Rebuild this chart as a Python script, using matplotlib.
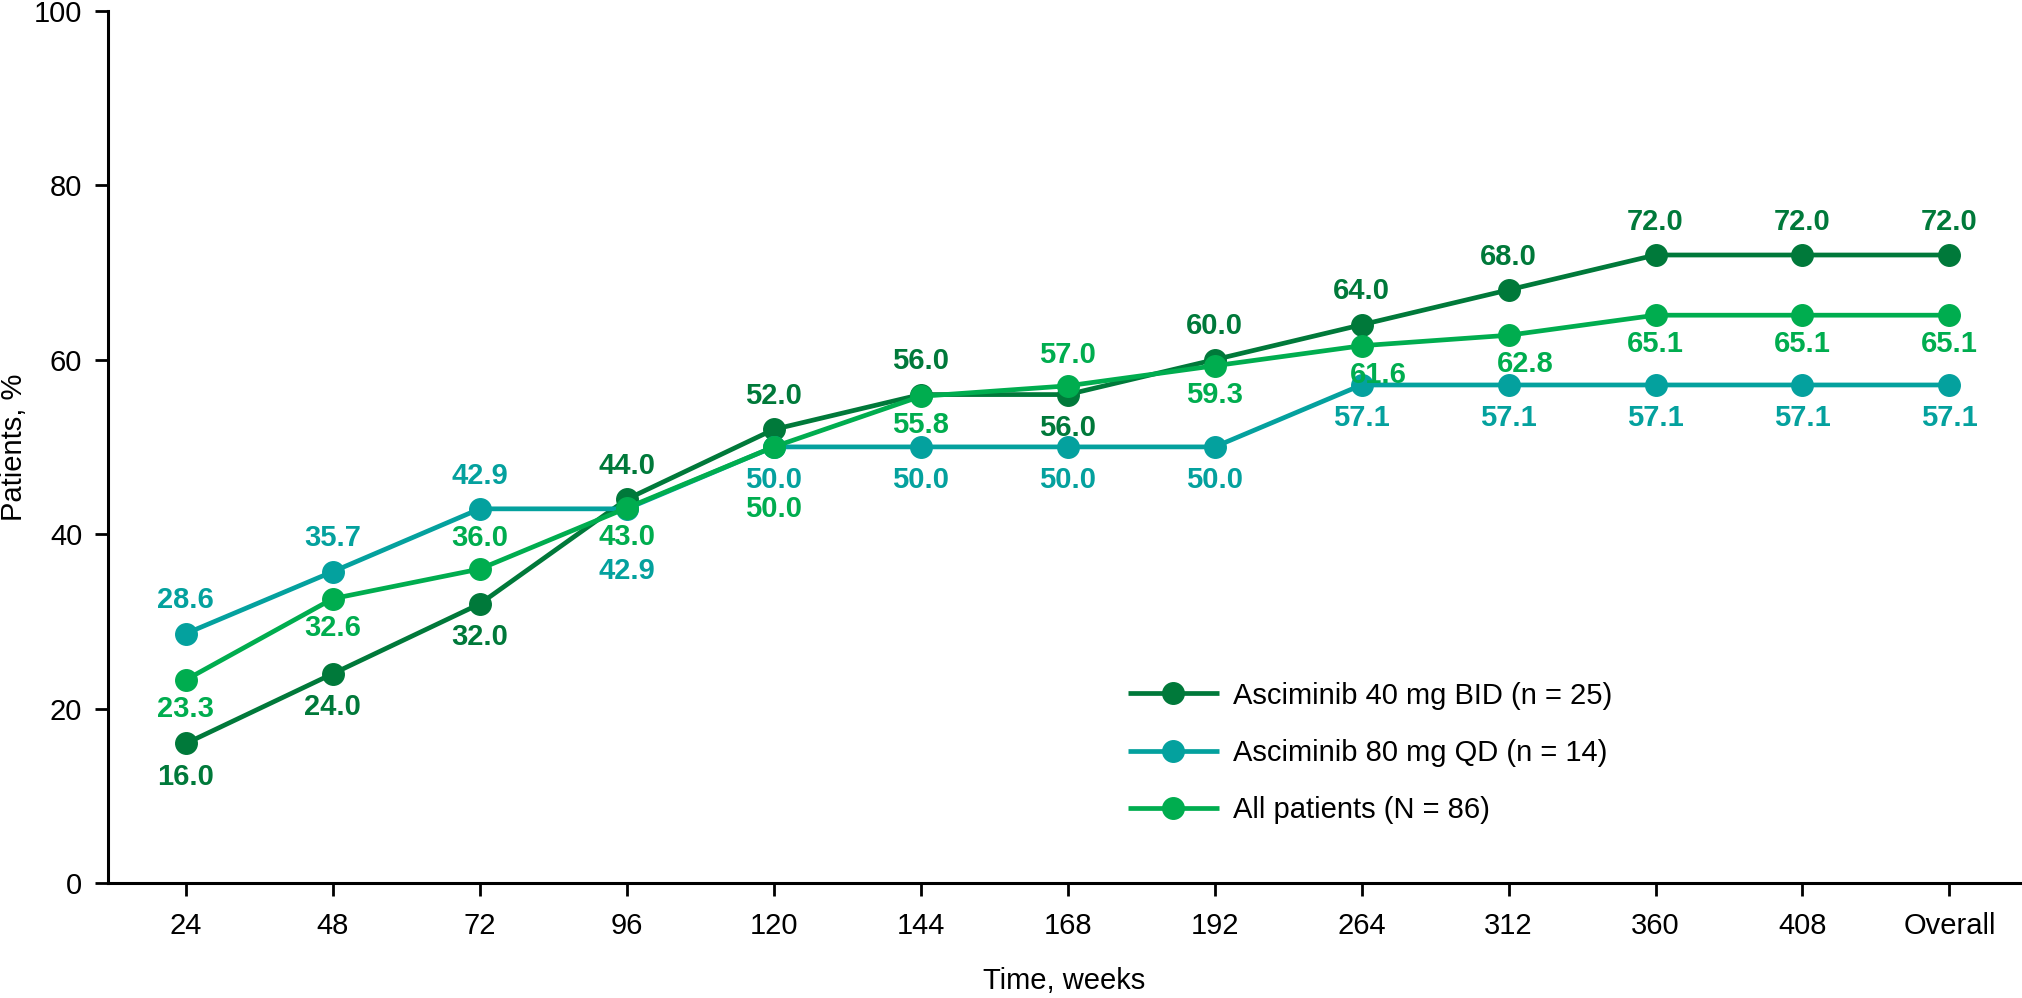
import matplotlib
matplotlib.use("Agg")
import matplotlib.pyplot as plt

categories = ["24", "48", "72", "96", "120", "144", "168", "192", "264", "312", "360", "408", "Overall"]
bid40 = [16.0, 24.0, 32.0, 44.0, 52.0, 56.0, 56.0, 60.0, 64.0, 68.0, 72.0, 72.0, 72.0]
qd80 = [28.6, 35.7, 42.9, 42.9, 50.0, 50.0, 50.0, 50.0, 57.1, 57.1, 57.1, 57.1, 57.1]
allp = [23.3, 32.6, 36.0, 43.0, 50.0, 55.8, 57.0, 59.3, 61.6, 62.8, 65.1, 65.1, 65.1]
labels = ["Asciminib 40 mg BID (n = 25)", "Asciminib 80 mg QD (n = 14)", "All patients (N = 86)"]

# label placement: +1 above, -1 below, -2 second row below
pos_bid = [-1, -1, -1, 1, 1, 1, -1, 1, 1, 1, 1, 1, 1]
pos_qd = [1, 1, 1, -2, -1, -1, -1, -1, -1, -1, -1, -1, -1]
pos_all = [-1, -1, 1, -1, -2, -1, 1, -1, -1, -1, -1, -1, -1]
# small horizontal nudges (points) for crowded labels
dx_bid = [0] * 13
dx_qd = [0] * 13
dx_all = [0, 0, 0, 0, 0, 0, 0, 0, 12, 12, 0, 0, 0]
off_dark = {1: 24, -1: -24, -2: -45}
off_teal = {1: 24, -1: -24, -2: -45}
off_light = {1: 22, -1: -21, -2: -45}

c_dark = "#00793A"
c_teal = "#04A19E"
c_light = "#00AD4F"

plt.rcParams["font.family"] = ["Liberation Sans", "DejaVu Sans"]
FS = 21

fig = plt.figure(figsize=(20.22, 9.98), dpi=100)
ax = fig.add_axes([0.0534, 0.1152, 0.9456, 0.874])

x = list(range(len(categories)))
series = [(bid40, c_dark, labels[0], pos_bid, off_dark, dx_bid),
          (qd80, c_teal, labels[1], pos_qd, off_teal, dx_qd),
          (allp, c_light, labels[2], pos_all, off_light, dx_all)]
for vals, col, lab, pos, offs, dxs in series:
    ax.plot(x, vals, color=col, lw=3.4, marker="o", markersize=15.5, label=lab,
            solid_capstyle="butt")
    for xi, v, p, dx in zip(x, vals, pos, dxs):
        ax.annotate(f"{v:.1f}", (xi, v), xytext=(dx, offs[p]), textcoords="offset points",
                    ha="center", va="center", fontsize=FS, fontweight="bold", color=col)

ax.set_xlim(-0.53, 12.48)
ax.set_ylim(0, 100)
ax.set_xticks(x)
ax.set_xticklabels(categories)
ax.set_yticks([0, 20, 40, 60, 80, 100])
ax.tick_params(axis="both", labelsize=FS, width=2, length=9.5, color="black")
ax.tick_params(axis="x", pad=11)
ax.tick_params(axis="y", pad=9)
for s in ["top", "right"]:
    ax.spines[s].set_visible(False)
for s in ["left", "bottom"]:
    ax.spines[s].set_linewidth(2.2)
ax.set_xlabel("Time, weeks", fontsize=FS, labelpad=20)
ax.set_ylabel("Patients, %", fontsize=FS)
ax.yaxis.set_label_coords(-0.042, 0.5)

leg = ax.legend(loc="upper left", bbox_to_anchor=(0.558, 0.317), bbox_transform=fig.transFigure,
                frameon=False, fontsize=FS, handlelength=3.1, handletextpad=0.5,
                labelspacing=1.0, borderpad=0, borderaxespad=0)

fig.savefig("out.png", dpi=100)
